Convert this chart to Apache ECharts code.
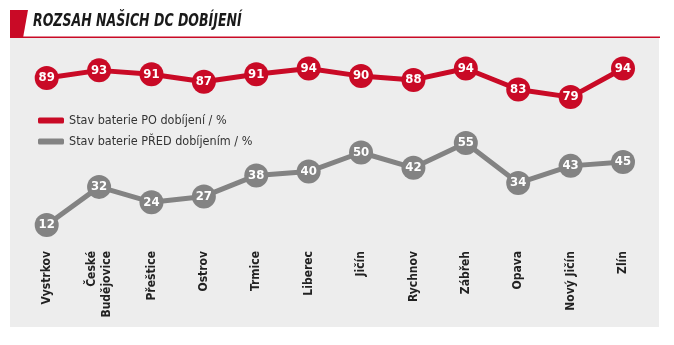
<!DOCTYPE html>
<html>
<head>
<meta charset="utf-8">
<script src="https://cdn.jsdelivr.net/npm/echarts@6/dist/echarts.min.js"></script>
<style>
html,body{margin:0;padding:0;background:#fff;}
#chart{width:674px;height:345px;}
</style>
</head>
<body>
<div id="chart"></div>
<script>
var categories = ['Vystrkov','České\nBudějovice','Přeštice','Ostrov','Trmice','Liberec','Jičín','Rychnov','Zábřeh','Opava','Nový Jičín','Zlín'];
var afterValues = [89,93,91,87,91,94,90,88,94,83,79,94];
var beforeValues = [12,32,24,27,38,40,50,42,55,34,43,45];
var seriesNames = ['Stav baterie PO dobíjení / %','Stav baterie PŘED dobíjením / %'];
var titleText = 'ROZSAH NAŠICH DC DOBÍJENÍ';

var RED = '#c90a26';
var GRAY = '#838383';
var FONT = '"DejaVu Sans Condensed", "Liberation Sans Narrow", "Open Sans", sans-serif';

var chart = echarts.init(document.getElementById('chart'));
function labelCfg() {
  return {show:true, position:'inside', color:'#fff', fontWeight:'bold', fontSize:13, fontFamily:FONT,
    formatter:function(p){return p.value;}};
}
chart.setOption({
  animation:false,
  graphic:[
    {type:'rect', z:-10, shape:{x:10,y:38,width:649,height:289}, style:{fill:'#ededed'}},
    {type:'rect', z:-5, shape:{x:10,y:36.5,width:650,height:1.5}, style:{fill:RED}},
    {type:'polygon', z:-5, shape:{points:[[10,10],[28,10],[23,38],[10,38]]}, style:{fill:RED}},
    {type:'text', z:-5, x:33, y:13, scaleX:0.82, style:{text:titleText, fill:'#1a1a1a', font:'italic bold 17px ' + FONT}}
  ],
  legend:{
    orient:'vertical', left:38, top:114, padding:0, itemGap:8, itemWidth:26, itemHeight:6,
    icon:'roundRect',
    textStyle:{fontFamily:FONT, fontSize:12.5, color:'#333'},
    data:[{name:seriesNames[0]},{name:seriesNames[1]}]
  },
  grid:{left:20.5, right:24.8, top:57, bottom:97},
  xAxis:{
    type:'category', data:categories, boundaryGap:true,
    axisLine:{show:false}, axisTick:{show:false}, splitLine:{show:false},
    axisLabel:{rotate:90, margin:3, fontFamily:FONT, fontWeight:'bold', fontSize:12, color:'#222', lineHeight:15, interval:0}
  },
  yAxis:{type:'value', min:0, max:100, show:false, splitLine:{show:false}},
  series:[
    {name:seriesNames[0], type:'line', data:afterValues, symbol:'circle', symbolSize:24,
     itemStyle:{color:RED}, lineStyle:{color:RED, width:5}, label:labelCfg(), z:3},
    {name:seriesNames[1], type:'line', data:beforeValues, symbol:'circle', symbolSize:24,
     itemStyle:{color:GRAY}, lineStyle:{color:GRAY, width:5}, label:labelCfg(), z:2}
  ]
});
</script>
</body>
</html>
